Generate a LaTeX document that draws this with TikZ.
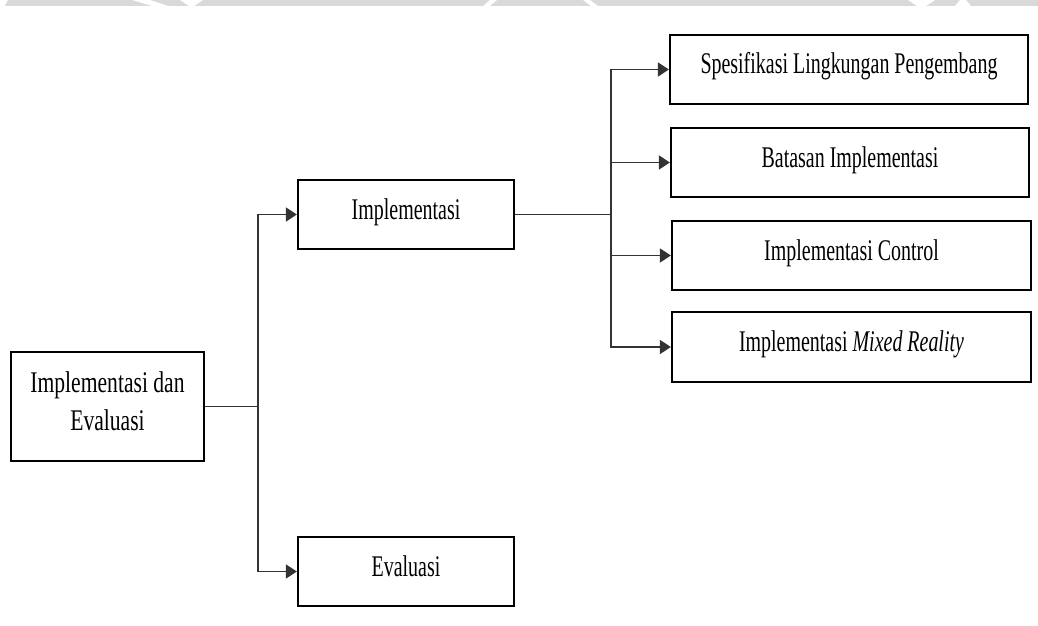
\documentclass[tikz,border=0pt]{standalone}
\usepackage{graphicx}
\usepackage{fontspec}
\setmainfont{Liberation Serif}
\usetikzlibrary{arrows.meta}
\newcommand\sqz[1]{\scalebox{0.665}[1]{#1}}
\newcommand\sqw[1]{\scalebox{0.72}[1]{#1}}
\definecolor{bandgray}{HTML}{D9D9D9}
\definecolor{linegray}{HTML}{333333}
\tikzset{
  boxnode/.style={draw=black, line width=2.2pt, inner sep=0pt, minimum height=69pt,
    font=\fontsize{30}{35}\selectfont, text height=21pt, text depth=12pt},
  conn/.style={draw=linegray, line width=1.5pt},
  arr/.style={conn, -{Triangle[length=11pt,width=14pt]}},
}
\begin{document}
\begin{tikzpicture}[x=1pt,y=-1pt]
\useasboundingbox (0,0) rectangle (1038,626);
% top band
\fill[bandgray] (8,0) -- (1038,0) -- (1038,6) -- (5,6) -- cycle;
\fill[white] (132,0) -- (150,0) -- (168,6) -- (152,6) -- cycle;
\fill[white] (180,0) -- (203,0) -- (194,6) -- (189,6) -- cycle;
\fill[white] (490,0) -- (497,0) -- (490,6) -- (483,6) -- cycle;
\fill[white] (583,0) -- (590,0) -- (598,6) -- (591,6) -- cycle;
\fill[white] (908,0) -- (935,0) -- (926,6) -- (917,6) -- cycle;
\fill[white] (960,0) -- (966,0) -- (971,6) -- (955,6) -- cycle;
% nodes
\node[boxnode, minimum width=193pt, minimum height=109pt, text height=24.5pt, text depth=53.5pt] (root) at (107.5,406.5)
  {\begin{tabular}[t]{@{}c@{}}\sqw{Implementasi dan}\\[3pt]\sqw{Evaluasi}\end{tabular}};
\node[boxnode, minimum width=216pt] (impl) at (406,214.5) {\sqz{Implementasi}};
\node[boxnode, minimum width=216pt] (eval) at (406,571.5) {\sqz{Evaluasi}};
\node[boxnode, minimum width=358pt] (s1) at (849,69.5) {\sqz{Spesifikasi Lingkungan Pengembang}};
\node[boxnode, minimum width=358pt] (s2) at (850,162.5) {\sqz{Batasan Implementasi}};
\node[boxnode, minimum width=359pt] (s3) at (851.5,255.5) {\sqz{Implementasi Control}};
\node[boxnode, minimum width=359pt, minimum height=70pt] (s4) at (851.5,347) {\sqz{Implementasi \textit{Mixed Reality}}};
% junctions
\coordinate (j1) at (258,406.5);
\coordinate (j2) at (611,214.5);
% connectors
\draw[conn] (root.east) -- (j1);
\draw[arr] (j1) |- (impl.west);
\draw[arr] (j1) |- (eval.west);
\draw[conn] (impl.east) -- (j2);
\draw[arr] (j2) |- (s1.west);
\draw[arr] (j2) |- (s2.west);
\draw[arr] (j2) |- (s3.west);
\draw[arr] (j2) |- (s4.west);
\end{tikzpicture}
\end{document}
